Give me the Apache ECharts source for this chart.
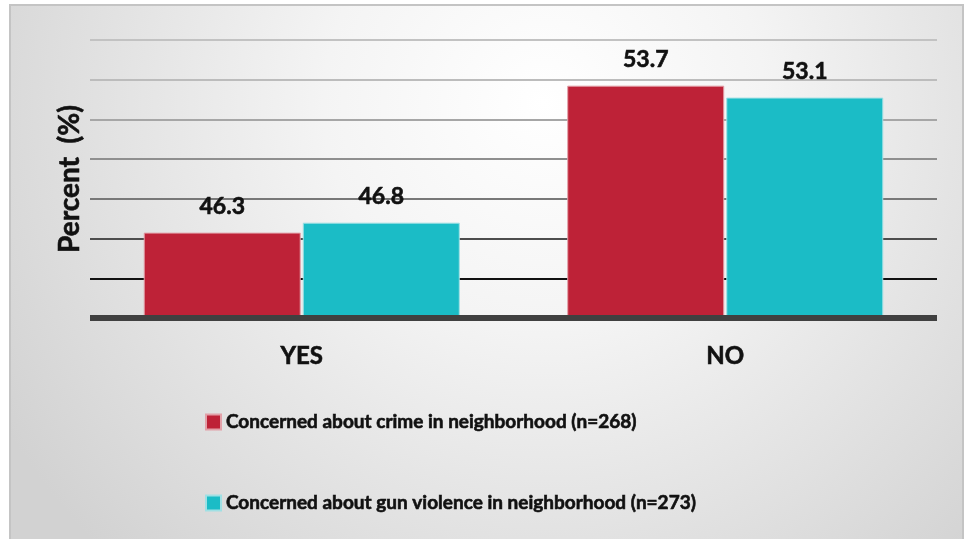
<!DOCTYPE html>
<html>
<head>
<meta charset="utf-8">
<script src="https://cdn.jsdelivr.net/npm/echarts@6/dist/echarts.min.js"></script>
<style>
  html, body { margin: 0; padding: 0; background: #ffffff; }
  #chart { width: 972px; height: 539px; }
</style>
</head>
<body>
<div id="chart"></div>
<script>
// Answer categories on the x axis
const categories = ['YES', 'NO'];

// Share of respondents (percent) for each concern
const seriesNames = [
  'Concerned about crime in neighborhood (n=268)',
  'Concerned about gun violence in neighborhood (n=273)'
];
const crimeValues = [46.3, 53.7];
const gunValues = [46.8, 53.1];

// Value axis range
const yMin = 42;
const yMax = 56;
const yStep = 2;

const FONT = 'Lato, "Open Sans", sans-serif';
const INK = '#111111';

// Heavy bold text: a thin outline in the text colour thickens the strokes
function heavy(size, extra) {
  return Object.assign({
    fontFamily: FONT,
    fontWeight: 'bold',
    fontSize: size,
    color: INK,
    textBorderColor: INK,
    textBorderWidth: 0.6
  }, extra || {});
}

const chart = echarts.init(document.getElementById('chart'), null, { renderer: 'canvas' });

// Gridlines fade from near-black at the bottom to light grey at the top
const gridColors = ['#111111', '#111111', '#4d4d4d', '#787878', '#8f8f8f', '#a6a6a6', '#bcbcbc', '#c2c2c2'];

function barSeries(name, values, color, edge) {
  return {
    name: name,
    type: 'bar',
    data: values,
    barWidth: 157,
    barGap: '1.3%',
    itemStyle: { color: color, borderColor: edge, borderWidth: 1 },
    label: Object.assign({
      show: true,
      position: 'top',
      distance: 15,
      formatter: (p) => p.value.toFixed(1)
    }, heavy(23)),
    z: 3
  };
}

chart.setOption({
  backgroundColor: '#ffffff',
  animation: false,
  graphic: [{
    type: 'rect',
    z: -10,
    shape: { x: 10, y: 5, width: 953, height: 545 },
    style: {
      fill: {
        type: 'radial', x: 0.56, y: 0.18, r: 1.15,
        colorStops: [
          { offset: 0, color: '#ffffff' },
          { offset: 0.35, color: '#f4f4f4' },
          { offset: 1, color: '#d2d2d2' }
        ]
      },
      stroke: '#c4c4c4',
      lineWidth: 2
    },
    silent: true
  }],
  grid: { left: 90, right: 35, top: 40, bottom: 221, containLabel: false },
  legend: {
    orient: 'vertical',
    left: 205,
    top: 412,
    padding: 0,
    itemWidth: 15,
    itemHeight: 15,
    itemGap: 61,
    icon: 'rect',
    textStyle: heavy(19, { lineHeight: 20 }),
    data: seriesNames
  },
  xAxis: {
    type: 'category',
    data: categories,
    axisLine: { show: true, lineStyle: { color: '#404040', width: 6, cap: 'butt' } },
    axisTick: { show: false },
    axisLabel: heavy(24, { margin: 26, lineHeight: 24 }),
    z: 4
  },
  yAxis: {
    type: 'value',
    min: yMin,
    max: yMax,
    interval: yStep,
    name: 'Percent  (%)',
    nameLocation: 'middle',
    nameRotate: 90,
    nameGap: 6,
    nameTextStyle: heavy(28),
    axisLine: { show: false },
    axisTick: { show: false },
    axisLabel: { show: false },
    splitLine: { show: true, lineStyle: { color: gridColors, width: 2 } }
  },
  series: [
    barSeries(seriesNames[0], crimeValues, '#be2237', '#e2a0a8'),
    barSeries(seriesNames[1], gunValues, '#1bbcc6', '#9fe0e4')
  ]
});
</script>
</body>
</html>
